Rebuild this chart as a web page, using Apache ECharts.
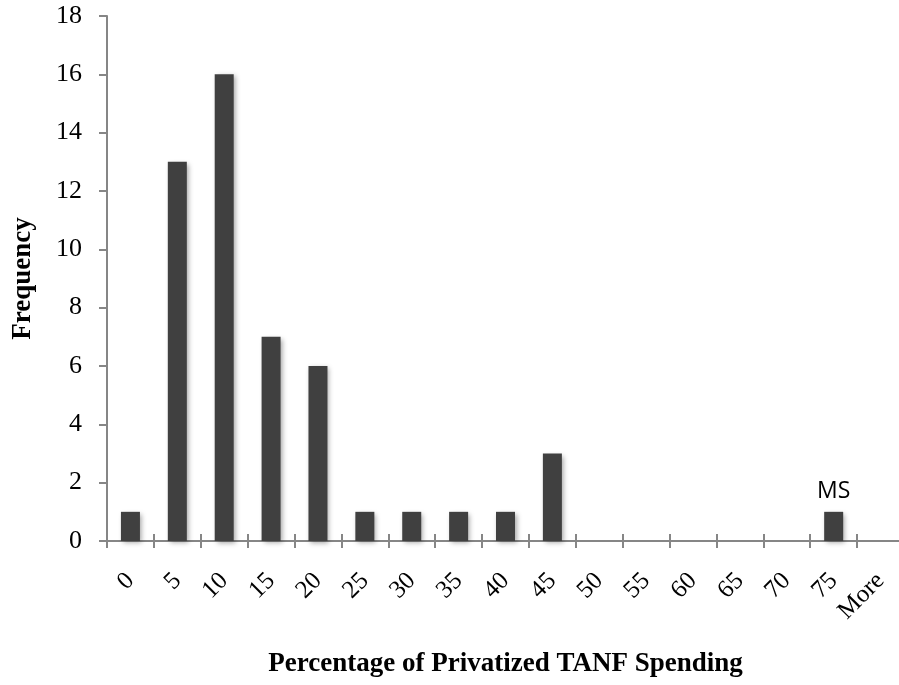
<!DOCTYPE html>
<html>
<head>
<meta charset="utf-8">
<style>
  html, body { margin: 0; padding: 0; background: #ffffff; }
  #chart { width: 899px; height: 685px; }
</style>
<script src="https://cdn.jsdelivr.net/npm/echarts@6/dist/echarts.min.js"></script>
</head>
<body>
<div id="chart"></div>
<script>
// Histogram bins (upper bound, % of TANF spending privatized)
const bins = ['0', '5', '10', '15', '20', '25', '30', '35', '40', '45', '50', '55', '60', '65', '70', '75', 'More'];
// Number of states falling into each bin
const frequency = [1, 13, 16, 7, 6, 1, 1, 1, 1, 3, 0, 0, 0, 0, 0, 1, 0];
// Annotations placed above individual bars
const barNotes = ['', '', '', '', '', '', '', '', '', '', '', '', '', '', '', 'MS', ''];
// Frequency axis range
const yMin = 0, yMax = 18, yStep = 2;

const axisGray = '#868686';
const serif = '"Liberation Serif", "Times New Roman", serif';

const chart = echarts.init(document.getElementById('chart'), null, { renderer: 'canvas' });

const seriesData = frequency.map((v, i) => ({
  value: v,
  label: barNotes[i]
    ? { show: true, position: 'top', distance: 9, formatter: barNotes[i],
        fontFamily: '"Open Sans", "Liberation Sans", sans-serif', fontSize: 23, color: '#000' }
    : { show: false }
}));

chart.setOption({
  backgroundColor: '#ffffff',
  animation: false,
  grid: { left: 107, top: 16, width: 797, height: 525, outerBoundsMode: 'none', containLabel: false },
  xAxis: [
    {
      type: 'category',
      data: bins,
      position: 'bottom',
      name: 'Percentage of Privatized TANF Spending',
      nameLocation: 'middle',
      nameGap: 110,
      nameTextStyle: { fontFamily: serif, fontSize: 27, fontWeight: 'bold', color: '#000' },
      axisLine: { lineStyle: { color: axisGray, width: 2 } },
      axisTick: { show: true, length: 7, alignWithLabel: false, lineStyle: { color: axisGray, width: 2 } },
      axisLabel: { rotate: 45, margin: 36, fontFamily: serif, fontSize: 25, color: '#000' },
      splitLine: { show: false }
    },
    {
      // upward half of the crossing tick marks
      type: 'category',
      data: bins,
      position: 'bottom',
      axisLine: { show: false },
      axisTick: { show: true, inside: true, length: 7, lineStyle: { color: axisGray, width: 2 } },
      axisLabel: { show: false },
      splitLine: { show: false }
    }
  ],
  yAxis: {
    type: 'value',
    min: yMin,
    max: yMax,
    interval: yStep,
    name: 'Frequency',
    nameLocation: 'middle',
    nameGap: 70,
    nameTextStyle: { fontFamily: serif, fontSize: 27, fontWeight: 'bold', color: '#000' },
    axisLine: { show: true, lineStyle: { color: axisGray, width: 2 } },
    axisTick: { show: true, length: 8, lineStyle: { color: axisGray, width: 2 } },
    axisLabel: { margin: 25, fontFamily: serif, fontSize: 26, color: '#000' },
    splitLine: { show: false }
  },
  series: [{
    type: 'bar',
    xAxisIndex: 0,
    data: seriesData,
    barWidth: 19,
    itemStyle: {
      color: '#404040',
      shadowColor: 'rgba(0,0,0,0.35)',
      shadowBlur: 5,
      shadowOffsetX: 2,
      shadowOffsetY: 2
    }
  }]
});
</script>
</body>
</html>
